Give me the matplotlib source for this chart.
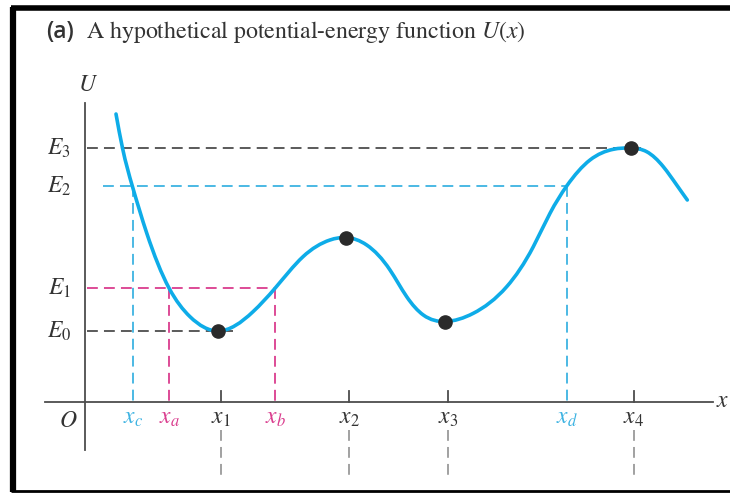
import numpy as np
import matplotlib
matplotlib.use("Agg")
import matplotlib.pyplot as plt
from matplotlib.path import Path
from matplotlib.patches import PathPatch

plt.rcParams['mathtext.fontset'] = 'stix'

# ---- data (arbitrary units, origin at O) ----
curve_x = [3.1, 3.75, 4.73, 6.17, 8.4, 10.5, 13.3, 16.8, 19.0, 21.8,
           24.5, 26.1, 28.17, 30.5, 32.17, 33.83, 36.0, 38.83, 42.17, 44.83,
           46.5, 48.17, 50.5, 52.83, 54.6, 56.17, 57.83, 59.17, 60.23]
curve_u = [28.8, 25.4, 21.6, 16.9, 11.4, 8.53, 7.1, 9.03, 11.37, 14.53,
           16.2, 16.45, 15.7, 13.2, 10.53, 8.7, 8.05, 8.87, 11.53, 15.53,
           18.87, 21.6, 24.2, 25.27, 25.4, 25.03, 23.53, 21.7, 20.2]

# equilibrium points x1..x4 and their U values
eq_x = [13.3, 26.1, 36.0, 54.6]
eq_u = [7.1, 16.45, 8.05, 25.4]
eq_labels = [r'$x_1$', r'$x_2$', r'$x_3$', r'$x_4$']

# energy levels
E_labels = [r'$E_0$', r'$E_1$', r'$E_2$', r'$E_3$']
E_values = [7.1, 11.4, 21.6, 25.4]

# turning points
xa, xb = 8.4, 19.0      # at E1
xc, xd = 4.8, 48.2      # at E2

CYAN = '#0EACE8'
CYAN_D = '#3DB3E2'
MAG = '#DA3D8E'
GRAY = '#4d4d4d'
LGRAY = '#9a9a9a'
TXT = '#333333'

fig = plt.figure(figsize=(7.3, 4.95), dpi=100)
ax = fig.add_axes([0, 0, 1, 1])
ax.set_xlim(-8.5, 64.5)
ax.set_ylim(-9.3, 40.2)
ax.axis('off')

# frame
ax.plot([-7.2, -7.2], [-9.0, 39.5], color='black', lw=4.5, solid_capstyle='butt')
ax.plot([-7.45, 64.5], [39.4, 39.4], color='black', lw=4.0, solid_capstyle='butt')
ax.plot([-7.45, 64.5], [-8.85, -8.85], color='black', lw=2.0, solid_capstyle='butt')

# axes
ax.plot([0, 0], [-4.8, 29.9], color=GRAY, lw=1.3)
ax.plot([-4.0, 62.8], [0, 0], color=GRAY, lw=1.3)

dash = dict(dashes=(6.0, 3.4), lw=1.3)

# horizontal energy lines
ax.plot([0.2, 55.6], [E_values[3]] * 2, color=GRAY, **dash)
ax.plot([1.8, xd], [E_values[2]] * 2, color=CYAN_D, **dash)
ax.plot([0.2, xb], [E_values[1]] * 2, color=MAG, **dash)
ax.plot([0.2, 14.8], [E_values[0]] * 2, color=GRAY, **dash)

# vertical turning-point lines
ax.plot([xc, xc], [E_values[2], 0], color=CYAN_D, **dash)
ax.plot([xd, xd], [E_values[2], 0], color=CYAN_D, **dash)
ax.plot([xa, xa], [E_values[1], 0], color=MAG, **dash)
ax.plot([xb, xb], [E_values[1], 0], color=MAG, **dash)

# ticks and lower gray dashes at equilibrium points
for xx in eq_x:
    ax.plot([xx + 0.3, xx + 0.3], [0, 1.15], color=GRAY, lw=1.3)
    ax.plot([xx + 0.3, xx + 0.3], [-2.8, -7.5], color=LGRAY, **dash)

# smooth curve through the read points: natural cubic spline slopes,
# drawn as Bezier segments of a Path
x = np.asarray(curve_x, float)
y = np.asarray(curve_u, float)
n = len(x)
h = np.diff(x)
A = np.zeros((n, n))
r = np.zeros(n)
A[0, 0] = A[-1, -1] = 1.0
for i in range(1, n - 1):
    A[i, i - 1] = h[i - 1]
    A[i, i] = 2 * (h[i - 1] + h[i])
    A[i, i + 1] = h[i]
    r[i] = 6 * ((y[i + 1] - y[i]) / h[i] - (y[i] - y[i - 1]) / h[i - 1])
M = np.linalg.solve(A, r)
m = np.empty(n)
m[:-1] = (y[1:] - y[:-1]) / h - h * (2 * M[:-1] + M[1:]) / 6
m[-1] = (y[-1] - y[-2]) / h[-1] + h[-1] * (M[-2] + 2 * M[-1]) / 6
verts = [(x[0], y[0])]
codes = [Path.MOVETO]
for i in range(n - 1):
    d = h[i] / 3
    verts += [(x[i] + d, y[i] + m[i] * d), (x[i + 1] - d, y[i + 1] - m[i + 1] * d),
              (x[i + 1], y[i + 1])]
    codes += [Path.CURVE4] * 3
ax.add_patch(PathPatch(Path(verts, codes), facecolor='none', edgecolor=CYAN,
                       lw=2.6, capstyle='round', zorder=4))

ax.plot(eq_x, eq_u, 'o', color='#2a2a2a', ms=9.5, zorder=5)

# labels
fs = 17
for lab, v in zip(E_labels, E_values):
    ax.text(-1.4, v, lab, ha='right', va='center', fontsize=fs, color=TXT)
for lab, xx in zip(eq_labels, eq_x):
    ax.text(xx + 0.3, -1.5, lab, ha='center', va='center', fontsize=fs, color=TXT)
ax.text(xc, -1.5, r'$x_c$', ha='center', va='center', fontsize=fs, color=CYAN_D)
ax.text(xd, -1.5, r'$x_d$', ha='center', va='center', fontsize=fs, color=CYAN_D)
ax.text(xa, -1.5, r'$x_a$', ha='center', va='center', fontsize=fs, color=MAG)
ax.text(xb, -1.5, r'$x_b$', ha='center', va='center', fontsize=fs, color=MAG)

ax.text(-1.7, -1.8, r'$O$', ha='center', va='center', fontsize=fs, color=TXT)
ax.text(63.8, 0.2, r'$x$', ha='center', va='center', fontsize=fs, color=TXT)
ax.text(0.3, 31.8, r'$U$', ha='center', va='center', fontsize=fs, color=TXT)

ax.text(-3.9, 36.4, '(a)', ha='left', va='baseline', fontsize=16.5,
        family='Open Sans', weight='semibold', color=TXT)
ax.text(0.1, 36.4, r'A hypothetical potential-energy function $U(x)$', ha='left',
        va='baseline', fontsize=17.2, family='STIXGeneral', color=TXT)

fig.savefig('out.png', dpi=100)
